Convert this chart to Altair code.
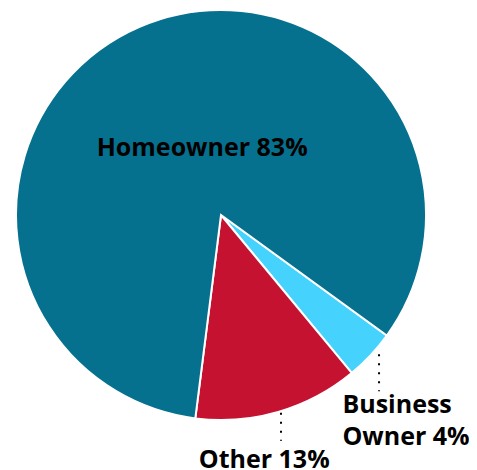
import math
import altair as alt
import pandas as pd

categories = ["Business Owner", "Other", "Homeowner"]
values = [4, 13, 83]
labels = ["Business\nOwner 4%", "Other 13%", "Homeowner 83%"]
colors = ["#45D3FE", "#C41230", "#06718F"]

df = pd.DataFrame({"category": categories, "value": values, "label": labels,
                   "order": list(range(len(categories)))})

CX, CY, R = 213, 207, 205
OFF = math.radians(126)
FONT = "Open Sans"

pie = alt.Chart(df).mark_arc(radius=R, stroke="white", strokeWidth=2).encode(
    theta=alt.Theta("value:Q", stack=True,
                    scale=alt.Scale(range=[OFF, OFF + 2 * math.pi])),
    order=alt.Order("order:Q"),
    x=alt.value(CX), y=alt.value(CY),
    color=alt.Color("category:N", scale=alt.Scale(domain=categories, range=colors), legend=None),
)

polar = alt.Chart(df).transform_window(
    cum="sum(value)", sort=[alt.SortField("order")], frame=[None, 0]
).transform_joinaggregate(total="sum(value)").transform_calculate(
    ang=f"{OFF} + (datum.cum - datum.value / 2) / datum.total * 2 * PI",
    sx="sin(datum.ang)",
    cy="-cos(datum.ang)",
)

def text_layer(cat, radius, align, dx, dy):
    return polar.transform_filter(alt.datum.category == cat).transform_calculate(
        tx=f"{CX} + {radius} * datum.sx", ty=f"{CY} + {radius} * datum.cy"
    ).mark_text(
        align=align, baseline="alphabetic", dx=dx, dy=dy, lineBreak="\n",
        font=FONT, fontWeight="bold", fontSize=25, lineHeight=32, color="black"
    ).encode(
        x=alt.X("tx:Q", scale=None, axis=None),
        y=alt.Y("ty:Q", scale=None, axis=None),
        text="label:N",
    )

t_home = text_layer("Homeowner", 65, "center", 7, 1)
t_bus = text_layer("Business Owner", R, "left", -28, 58)
t_oth = text_layer("Other", R, "center", -14, 56)

def leader(cat, xo, yo, length):
    return polar.transform_filter(alt.datum.category == cat).transform_calculate(
        lx=f"{CX} + {R} * datum.sx + {xo}",
        ly1=f"{CY} + {R} * datum.cy + {yo}",
        ly2=f"{CY} + {R} * datum.cy + {yo + length}",
    ).mark_rule(color="black", strokeWidth=2, strokeDash=[2, 7], strokeCap="butt").encode(
        x=alt.X("lx:Q", scale=None, axis=None),
        y=alt.Y("ly1:Q", scale=None, axis=None),
        y2="ly2:Q",
    )

l_bus = leader("Business Owner", 8.6, -1, 37)
l_oth = leader("Other", 2.8, 1, 28)

chart = alt.layer(pie, l_bus, l_oth, t_home, t_bus, t_oth).properties(
    width=461, height=462, padding=0, autosize="none"
).configure_view(stroke=None)

chart.save("out.html", embed_options={"renderer": "svg", "actions": False})
